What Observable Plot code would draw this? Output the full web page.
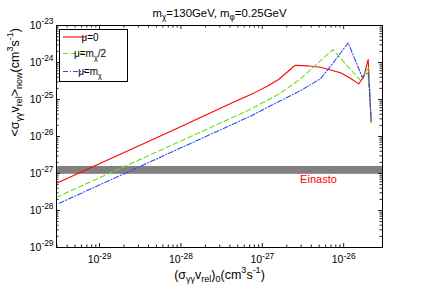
<!DOCTYPE html>
<html><head><meta charset="utf-8">
<script src="https://cdn.jsdelivr.net/npm/d3@7"></script>
<script src="https://cdn.jsdelivr.net/npm/@observablehq/plot@0.6"></script>
<style>body{margin:0;background:#fff} svg{display:block}</style>
</head><body><div id="chart"></div>
<script>
// ---- data ----
const redX = [2.965e-30, 8.51e-29, 4.47e-28, 7.94e-28, 1.15e-27, 1.585e-27, 2.0e-27, 2.40e-27, 2.56e-27, 3.55e-27, 5.19e-27, 9.14e-27, 1.21e-26, 1.53e-26, 1.76e-26, 2.00e-26, 2.18e-26];
const redY = [5.47e-28, 1.58e-26, 8.51e-26, 1.51e-25, 2.29e-25, 3.47e-25, 5.37e-25, 7.67e-25, 8.41e-25, 8.13e-25, 7.46e-25, 5.27e-25, 3.77e-25, 2.65e-25, 4.01e-25, 1.21e-24, 2.43e-26];
const greenX = [2.965e-30, 8.51e-29, 7.16e-28, 1.67e-27, 2.95e-27, 7.35e-27, 1.61e-26, 2.03e-26, 2.18e-26];
const greenY = [2.29e-28, 6.45e-27, 5.43e-26, 1.48e-25, 3.62e-25, 2.24e-24, 3.27e-25, 7.46e-25, 2.43e-26];
const blueX = [3.20e-30, 8.51e-29, 7.16e-28, 2.95e-27, 5.19e-27, 7.55e-27, 1.135e-26, 1.69e-26, 2.00e-26, 2.18e-26];
const blueY = [1.57e-28, 4.20e-27, 3.55e-26, 1.75e-25, 3.62e-25, 1.02e-24, 3.40e-24, 4.01e-25, 5.47e-25, 2.43e-26];
const bandLow = 0.95e-27, bandHigh = 1.55e-27;
const bandLabel = "Einasto", bandLabelX = 4.9e-27, bandLabelY = 6.8e-28;
const seriesNames = ["μ=0", "μ=m_{χ}/2", "μ=m_{χ}"];
const seriesColors = ["#ff0000", "#66e01a", "#2f4cf2"];
const seriesDash = [null, "5,3", "5,2,1,2"];
const xMajor = [1e-29, 1e-28, 1e-27, 1e-26];
const yMajor = [1e-29, 1e-28, 1e-27, 1e-26, 1e-25, 1e-24, 1e-23];
const xDomain = [2.96e-30, 3.0e-26];
const yDomain = [1e-29, 1e-23];
const titleText = "m_{χ}=130GeV, m_{φ}=0.25GeV";
const xLabel = "(σ_{γγ}v_{rel})_{0}(cm^{3}s^{-1})";
const yLabel = "<σ_{γγ}v_{rel}>_{now}(cm^{3}s^{-1})";

// minor ticks
const xMinor = [], yMinor = [];
for (let k = -30; k <= -27; k++) for (let m = 2; m <= 9; m++) { const v = m * Math.pow(10, k); if (v > xDomain[0] && v < xDomain[1]) xMinor.push(v); }
for (let k = -29; k <= -24; k++) for (let m = 2; m <= 9; m++) yMinor.push(m * Math.pow(10, k));

const W = 422, H = 290, mL = 56, mR = 40, mT = 25, mB = 43;
const iw = W - mL - mR, ih = H - mT - mB;
const majL = 4, minL = 2.5;
const FONT = "'Liberation Sans', Arial, sans-serif";
const LABEL_FS = 12.5;

const mk = (xs, ys) => xs.map((x, i) => ({x, y: ys[i]}));
const series = [mk(redX, redY), mk(greenX, greenY), mk(blueX, blueY)];
const fmt = d => "10^{" + Math.round(Math.log10(d)) + "}";

const tickStroke = "#222";
const plot = Plot.plot({
  width: W, height: H,
  marginLeft: mL, marginRight: mR, marginTop: mT, marginBottom: mB,
  style: {fontFamily: FONT, fontSize: "11px", background: "white", color: "black"},
  x: {type: "log", domain: xDomain},
  y: {type: "log", domain: yDomain},
  marks: [
    Plot.rect([{x1: xDomain[0], x2: xDomain[1], y1: bandLow, y2: bandHigh}], {x1: "x1", x2: "x2", y1: "y1", y2: "y2", fill: "#808080"}),
    ...series.map((d, i) => Plot.line(d, {x: "x", y: "y", stroke: seriesColors[i], strokeWidth: 1.1, strokeDasharray: seriesDash[i]})),
    Plot.text([bandLabel], {x: () => bandLabelX, y: () => bandLabelY, text: d => d, fill: "red", fontSize: 11}),
    Plot.tickX(xMajor, {x: d => d, insetTop: ih - majL, stroke: tickStroke}),
    Plot.tickX(xMajor, {x: d => d, insetBottom: ih - majL, stroke: tickStroke}),
    Plot.tickX(xMinor, {x: d => d, insetTop: ih - minL, stroke: tickStroke}),
    Plot.tickX(xMinor, {x: d => d, insetBottom: ih - minL, stroke: tickStroke}),
    Plot.tickY(yMajor, {y: d => d, insetRight: iw - majL, stroke: tickStroke}),
    Plot.tickY(yMajor, {y: d => d, insetLeft: iw - majL, stroke: tickStroke}),
    Plot.tickY(yMinor, {y: d => d, insetRight: iw - minL, stroke: tickStroke}),
    Plot.tickY(yMinor, {y: d => d, insetLeft: iw - minL, stroke: tickStroke}),
    Plot.frame({stroke: "black"}),
    Plot.axisX({ticks: xMajor, tickSize: 0, tickPadding: 8, tickFormat: fmt, fontSize: 10.5, label: null}),
    Plot.axisY({ticks: yMajor, tickSize: 0, tickPadding: 3, tickFormat: fmt, fontSize: 10.5, label: null}),
    Plot.text([titleText], {frameAnchor: "top", dy: -17, text: d => d, fontSize: 11.4}),
    Plot.text([xLabel], {frameAnchor: "bottom", dy: 31, text: d => d, fontSize: LABEL_FS}),
    Plot.text([yLabel], {frameAnchor: "left", dx: -42, rotate: -90, text: d => d, fontSize: LABEL_FS})
  ]
});
document.getElementById("chart").appendChild(plot);

// legend inside the plot, top-left
const svg = d3.select(plot);
const lg = svg.append("g").attr("font-family", FONT).attr("font-size", 10);
lg.append("rect").attr("x", 59.5).attr("y", 29.5).attr("width", 68).attr("height", 52).attr("fill", "white").attr("stroke", "black");
const legY = [37, 53.5, 71.5];
seriesNames.forEach((name, i) => {
  lg.append("line").attr("x1", 63).attr("x2", 86).attr("y1", legY[i]).attr("y2", legY[i])
    .attr("stroke", seriesColors[i]).attr("stroke-width", 1.1).attr("stroke-dasharray", seriesDash[i]);
  lg.append("text").attr("x", 90).attr("y", legY[i]).attr("dy", "0.35em").text(name);
});

// rich text: _{..} subscripts and ^{..} superscripts
function richify(el, s, fs, scale) {
  const sel = d3.select(el);
  sel.selectAll("*").remove();
  sel.text(null);
  sel.attr("font-size", fs);
  const re = /([_^])\{([^}]*)\}|([^_^]+)/g;
  let m, cur = 0;
  while ((m = re.exec(s))) {
    if (m[3] !== undefined) {
      const t = sel.append("tspan").text(m[3]);
      if (cur !== 0) { t.attr("dy", -cur); cur = 0; }
    } else {
      const target = m[1] === "^" ? -0.42 * fs : 0.3 * fs;
      sel.append("tspan").text(m[2]).attr("font-size", scale * fs).attr("dy", target - cur);
      cur = target;
    }
  }
}
svg.selectAll("text").each(function () {
  const s = this.textContent;
  if (!/[_^]\{/.test(s)) return;
  let fs = 11, scale = 0.72;
  if (s === titleText) fs = 11.4;
  else if (s === xLabel || s === yLabel) fs = LABEL_FS;
  else if (/^10\^\{/.test(s)) { fs = 10.5; scale = 0.8; }
  else if (seriesNames.includes(s)) fs = 10;
  richify(this, s, fs, scale);
});
</script>
</body></html>
